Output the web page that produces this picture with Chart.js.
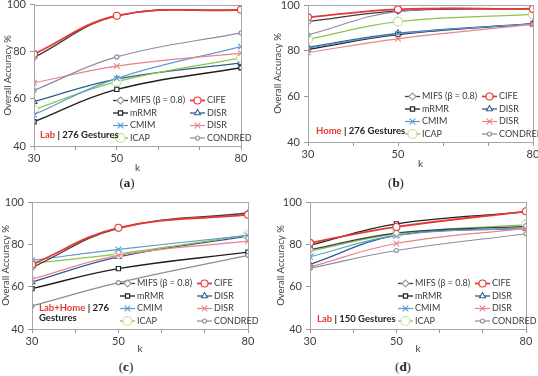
<!DOCTYPE html>
<html>
<head>
<meta charset="utf-8">
<script src="https://cdn.jsdelivr.net/npm/chart.js@4/dist/chart.umd.min.js"></script>
<style>
  body { margin: 0; width: 538px; height: 376px; overflow: hidden; background: #fff; position: relative; }
  .panel { position: absolute; }
  .cap { position: absolute; font-family: "Liberation Serif", serif; font-size: 13px; color: #222; transform: translate(-50%, -50%); }
  .cap b { font-weight: bold; }
</style>
</head>
<body>
<div class="panel" style="left:0px;top:-6px"><canvas id="pa" width="262" height="182"></canvas></div>
<div class="panel" style="left:268px;top:-6px"><canvas id="pb" width="280" height="178"></canvas></div>
<div class="panel" style="left:0px;top:190px"><canvas id="pc" width="262" height="167"></canvas></div>
<div class="panel" style="left:268px;top:190px"><canvas id="pd" width="280" height="167"></canvas></div>
<div class="cap" style="left:127px;top:183px">(<b>a</b>)</div>
<div class="cap" style="left:396px;top:183px">(<b>b</b>)</div>
<div class="cap" style="left:126px;top:367px">(<b>c</b>)</div>
<div class="cap" style="left:403px;top:367px">(<b>d</b>)</div>
<script>
const kValues = [30, 50, 80];
const kLabels = [30, 50, 80];
const accTicks = [40, 60, 80, 100];
const methods = ["MIFS (β = 0.8)", "mRMR", "CMIM", "ICAP", "CIFE", "DISR", "DISR", "CONDRED"];

// rows follow the order of methods
const lab276 = [
  [77.6, 95.2, 97.9],
  [50.3, 64.0, 73.2],
  [53.3, 68.7, 82.2],
  [55.4, 67.3, 77.4],
  [79.0, 95.3, 97.8],
  [58.8, 68.4, 75.3],
  [66.8, 73.9, 79.4],
  [63.6, 77.8, 88.0]
];
const home276 = [
  [92.7, 97.4, 98.5],
  [80.6, 87.0, 91.7],
  [81.0, 87.3, 91.7],
  [85.0, 92.7, 95.9],
  [94.6, 98.1, 98.3],
  [81.5, 87.6, 91.8],
  [79.2, 85.2, 91.5],
  [86.9, 97.2, 98.2]
];
const labHome276 = [
  [69.0, 87.6, 94.8],
  [59.1, 68.5, 76.3],
  [72.4, 77.6, 84.2],
  [71.0, 75.5, 84.4],
  [70.5, 87.8, 94.0],
  [62.2, 74.1, 83.9],
  [63.5, 74.8, 81.5],
  [50.9, 61.9, 74.8]
];
const lab150 = [
  [77.5, 85.3, 88.5],
  [79.6, 89.7, 95.3],
  [74.1, 84.2, 87.8],
  [76.8, 85.0, 89.3],
  [80.7, 88.2, 95.6],
  [70.5, 84.2, 87.5],
  [69.3, 80.4, 87.5],
  [68.7, 77.1, 85.0]
];

const looks = [
  { line: "#3f3f3f", mark: "#9a9a9a", style: "rectRot", r: 3.5, w: 1.3, order: 3 },
  { line: "#1e1e1e", mark: "#1e1e1e", style: "rect", r: 3, w: 1.3, order: 5 },
  { line: "#5b9bd5", mark: "#5b9bd5", style: "crossRot", r: 4, w: 1.2, order: 4 },
  { line: "#8cc44a", mark: "#c2dd95", style: "circle", r: 4.5, w: 1.3, order: 6 },
  { line: "#e53935", mark: "#e53935", style: "circle", r: 3.5, w: 1.8, order: 0 },
  { line: "#2f5c8a", mark: "#2f5c8a", style: "triangle", r: 3.5, w: 1.3, order: 7 },
  { line: "#e8848a", mark: "#e8848a", style: "crossRot", r: 4, w: 1.2, order: 2 },
  { line: "#8b8ba3", mark: "#8b8ba3", style: "circle", r: 2, w: 1.2, order: 1 }
];
const legendOrder = [0, 4, 1, 5, 2, 6, 3, 7];
const FONT = "Lato";

function drawMark(ctx, lk, x, y) {
  const opts = { pointStyle: lk.style, radius: lk.r, borderWidth: 1.1, rotation: 0 };
  ctx.save();
  ctx.strokeStyle = lk.mark;
  ctx.fillStyle = "#fff";
  ctx.lineWidth = 1.1;
  if (Chart.helpers && Chart.helpers.drawPoint) {
    Chart.helpers.drawPoint(ctx, opts, x, y);
  } else {
    ctx.beginPath(); ctx.arc(x, y, lk.r, 0, Math.PI * 2); ctx.fill(); ctx.stroke();
  }
  ctx.restore();
}

const panelDeco = {
  id: "panelDeco",
  afterDraw(chart, args, o) {
    const { ctx, chartArea: a } = chart;
    ctx.save();
    ctx.strokeStyle = "#a6a6a6";
    ctx.lineWidth = 1;
    ctx.strokeRect(Math.round(a.left) + 0.5, Math.round(a.top) + 0.5, Math.round(a.right - a.left), Math.round(a.bottom - a.top));

    // legend, two columns in the lower right corner
    ctx.font = "9px " + FONT;
    ctx.textBaseline = "middle";
    legendOrder.forEach((si, n) => {
      const row = Math.floor(n / 2), col = n % 2;
      const x0 = a.right - (col === 0 ? 128 : 51);
      const y = a.bottom - 8 - 12.5 * (3 - row);
      const lk = looks[si];
      ctx.strokeStyle = lk.line;
      ctx.lineWidth = lk.w;
      ctx.beginPath(); ctx.moveTo(x0, y); ctx.lineTo(x0 + 15, y); ctx.stroke();
      drawMark(ctx, lk, x0 + 7.5, y);
      ctx.fillStyle = "#3a3a3a";
      ctx.fillText(methods[si], x0 + 17, y);
    });

    // setting label
    ctx.font = "bold 9.5px " + FONT;
    let x = a.left + o.dx;
    ctx.fillStyle = "#e53935";
    ctx.fillText(o.tag, x, a.bottom - o.dy);
    x += ctx.measureText(o.tag).width;
    ctx.fillStyle = "#222";
    ctx.fillText(o.rest, x, a.bottom - o.dy);
    if (o.rest2) ctx.fillText(o.rest2, a.left + o.dx, a.bottom - o.dy + 9.5);
    ctx.restore();
  }
};

function makePanel(id, rows, p) {
  const datasets = rows.map((vals, i) => ({
    label: methods[i],
    data: kValues.map((k, j) => ({ x: k, y: vals[j] })),
    borderColor: looks[i].line,
    borderWidth: looks[i].w,
    pointStyle: looks[i].style,
    pointRadius: looks[i].r,
    pointBorderColor: looks[i].mark,
    pointBackgroundColor: "#fff",
    pointBorderWidth: 1.1,
    tension: 0.4,
    order: looks[i].order,
    fill: false
  }));
  new Chart(document.getElementById(id), {
    type: "line",
    data: { datasets },
    plugins: [panelDeco],
    options: {
      responsive: false,
      animation: false,
      devicePixelRatio: 1,
      layout: { padding: { top: p.top, right: p.right, left: 0, bottom: 0 } },
      plugins: {
        legend: { display: false },
        tooltip: { enabled: false },
        panelDeco: { tag: p.tag, rest: p.rest, rest2: p.rest2, dx: p.dx, dy: p.dy }
      },
      scales: {
        x: {
          type: "linear", min: 30, max: 80,
          afterFit: s => { s.height = p.xh; },
          ticks: {
            stepSize: 10, autoSkip: false, maxRotation: 0, padding: 2,
            color: "#404040", font: { family: FONT, size: 11 },
            callback: v => kLabels.includes(v) ? String(v) : ""
          },
          grid: { drawOnChartArea: false, drawTicks: true, tickLength: 4, color: "#999" },
          border: { color: "#a6a6a6" },
          title: { display: true, text: "k", color: "#404040", font: { family: FONT, size: 10 }, padding: { top: 0, bottom: 2 } }
        },
        y: {
          min: 40, max: 100,
          afterFit: s => { s.width = p.yw; },
          afterBuildTicks: s => { s.ticks = accTicks.map(v => ({ value: v })); },
          ticks: { padding: 4, color: "#404040", font: { family: FONT, size: 11 } },
          grid: { drawOnChartArea: false, drawTicks: true, tickLength: 4, color: "#999" },
          border: { color: "#a6a6a6" },
          title: { display: true, text: "Overall Accuracy %", color: "#404040", font: { family: FONT, size: 9.5 }, padding: { top: p.tp, bottom: 0 } }
        }
      }
    }
  });
}

makePanel("pa", lab276, { top: 6, right: 21, yw: 34, xh: 30, tp: 2, tag: "Lab", rest: " | 276 Gestures", dx: 6, dy: 11 });
makePanel("pb", home276, { top: 11, right: 15, yw: 40, xh: 30, tp: 4, tag: "Home", rest: " | 276 Gestures", dx: 8, dy: 11 });
makePanel("pc", labHome276, { top: 12, right: 14, yw: 32, xh: 28, tp: 0, tag: "Lab+Home", rest: " | 276", rest2: "Gestures", dx: 7, dy: 21 });
makePanel("pd", lab150, { top: 12, right: 22, yw: 42, xh: 28, tp: 7, tag: "Lab", rest: " | 150 Gestures", dx: 7, dy: 10 });
</script>
</body>
</html>
